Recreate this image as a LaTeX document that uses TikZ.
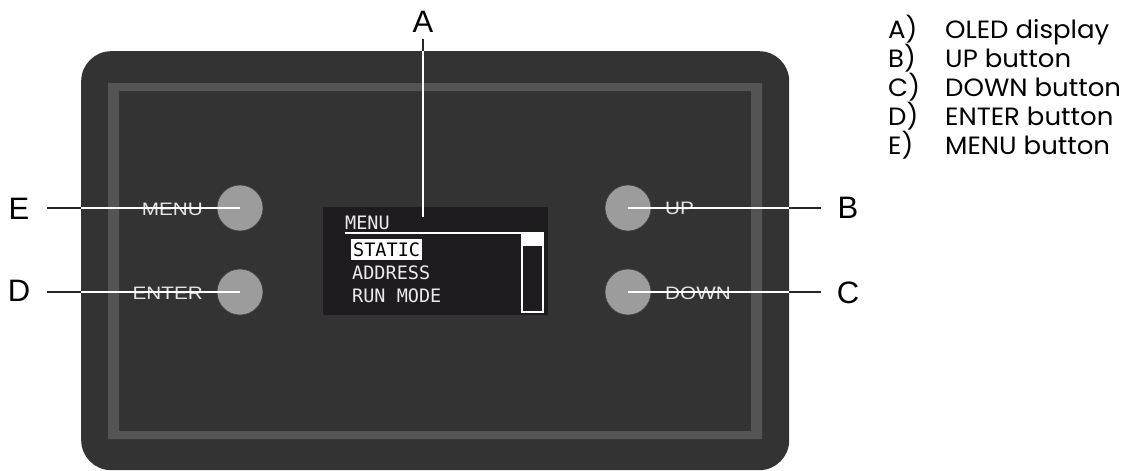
\documentclass[tikz,border=0pt]{standalone}
\usepackage{fontspec}
\setmainfont{Liberation Sans}
\newfontfamily\legendfont[FakeStretch=1.04]{Poppins}
\newfontfamily\btnfont[FakeStretch=1.15]{Liberation Sans}
\newfontfamily\lcdfont{DejaVu Sans Mono}
\definecolor{bodygray}{HTML}{333333}
\definecolor{bandgray}{HTML}{545454}
\definecolor{lcdblack}{HTML}{1E1C1F}
\definecolor{btngray}{HTML}{9C9C9C}
\definecolor{lblgray}{HTML}{E4E4E4}
\tikzset{
  btn/.style={circle, minimum size=46pt, inner sep=0pt, fill=btngray, draw=black!75, line width=0.6pt},
  btnlbl/.style={inner sep=0pt, text=lblgray, font=\btnfont\fontsize{18}{20}\selectfont},
  lcdtxt/.style={inner sep=0pt, text=white!92!black, font=\lcdfont\fontsize{18.5}{20}\selectfont},
  letter/.style={inner sep=0pt, font=\fontsize{31}{33}\selectfont},
  legend/.style={inner sep=0pt, anchor=base west, font=\legendfont\fontsize{25}{27}\selectfont},
  leadk/.style={draw=black!85, line width=1.6pt},
  leadw/.style={draw=white, line width=1.6pt}
}
\begin{document}
\begin{tikzpicture}[x=1pt,y=-1pt]
\useasboundingbox (0,0) rectangle (1130,471);
% body
\node[fill=bodygray, rounded corners=30pt, minimum width=708pt, minimum height=419pt, inner sep=0pt, anchor=north west] (body) at (81,51) {};
\fill[bandgray, even odd rule] (108,83) rectangle (762,439) (119,91) rectangle (751,431);
% display
\node[fill=lcdblack, minimum width=225pt, minimum height=108pt, inner sep=0pt, anchor=north west] (lcd) at (323,207) {};
\node[lcdtxt, anchor=base west] (lmenu) at (345,229) {MENU};
\draw[white, line width=2pt] (345,233) -- (543,233);
\node[lcdtxt, text=black, fill=white, inner xsep=2pt, minimum height=21pt, anchor=west] (lstatic) at (351,249.5) {STATIC};
\node[lcdtxt, anchor=base west] (laddr) at (352,279) {ADDRESS};
\node[lcdtxt, anchor=base west] (lrun) at (352,302) {RUN MODE};
\draw[white, line width=1.8pt] (522,233) rectangle (543,312);
\fill[white] (522,233) rectangle (543,246);
% buttons
\node[btn] (bmenu) at (240,208) {};
\node[btn] (benter) at (240,292) {};
\node[btn] (bup) at (628,208) {};
\node[btn] (bdown) at (628,292) {};
\node[btnlbl, anchor=base east] (tmenu) at (203,215) {MENU};
\node[btnlbl, anchor=base east] (tenter) at (203,299) {ENTER};
\node[btnlbl, anchor=base west] (tup) at (665,214) {UP};
\node[btnlbl, anchor=base west] (tdown) at (665,299) {DOWN};
% letters
\node[letter] (labA) at (423,21.5) {A};
\node[letter] (labE) at (19,208.5) {E};
\node[letter] (labD) at (19,291) {D};
\node[letter] (labB) at (848,207.5) {B};
\node[letter] (labC) at (848,292.5) {C};
% leaders
\coordinate (eA) at (labA |- body.north);
\coordinate (eE) at (bmenu -| body.west);
\coordinate (eD) at (benter -| body.west);
\coordinate (eB) at (bup -| body.east);
\coordinate (eC) at (bdown -| body.east);
\draw[leadk] ([yshift=-7pt]labA.south) -- (eA);
\draw[leadw] (eA) -- ([yshift=-10pt]lcd.north -| labA);
\draw[leadk] (bmenu -| 47,0) -- (eE);
\draw[leadw] (eE) -- (bmenu.center);
\draw[leadk] (benter -| 47,0) -- (eD);
\draw[leadw] (eD) -- (benter.center);
\draw[leadk] (bup -| 821,0) -- (eB);
\draw[leadw] (eB) -- (bup.center);
\draw[leadk] (bdown -| 821,0) -- (eC);
\draw[leadw] (eC) -- (bdown.center);
% legend
\node[legend] (kA) at (888,38) {A)};
\node[legend] (vA) at (945,38) {OLED display};
\node[legend] (kB) at (888,67) {B)};
\node[legend] (vB) at (945,67) {UP button};
\node[legend] (kC) at (888,96) {C)};
\node[legend] (vC) at (945,96) {DOWN button};
\node[legend] (kD) at (888,125) {D)};
\node[legend] (vD) at (945,125) {ENTER button};
\node[legend] (kE) at (888,154) {E)};
\node[legend] (vE) at (945,154) {MENU button};
\end{tikzpicture}
\end{document}
